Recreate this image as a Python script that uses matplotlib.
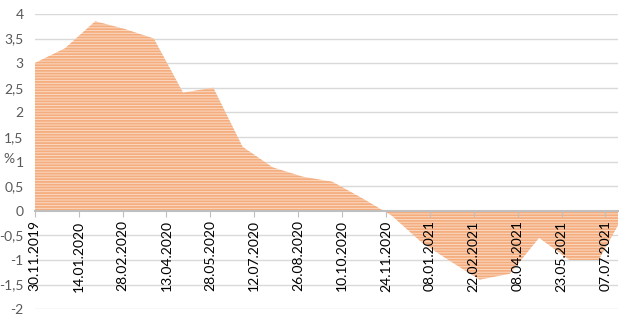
import numpy as np
import pandas as pd
import matplotlib
matplotlib.use('Agg')
from matplotlib import pyplot as plt

# Data (monthly, end of month), %
dates = ['2019-11-30', '2019-12-31', '2020-01-31', '2020-02-29', '2020-03-31',
         '2020-04-30', '2020-05-31', '2020-06-30', '2020-07-31', '2020-08-31',
         '2020-09-30', '2020-10-31', '2020-11-30', '2020-12-31', '2021-01-31',
         '2021-02-28', '2021-03-31', '2021-04-30', '2021-05-31', '2021-06-30',
         '2021-07-31']
values = [3.0, 3.3, 3.85, 3.7, 3.5,
          2.4, 2.5, 1.3, 0.88, 0.69,
          0.59, 0.25, -0.1, -0.65, -1.05,
          -1.4, -1.28, -0.55, -1.0, -1.0,
          0.1]

tick_dates = ['2019-11-30', '2020-01-14', '2020-02-28', '2020-04-13', '2020-05-28',
              '2020-07-12', '2020-08-26', '2020-10-10', '2020-11-24', '2021-01-08',
              '2021-02-22', '2021-04-08', '2021-05-23', '2021-07-07']
y_ticks = [-2, -1.5, -1, -0.5, 0, 0.5, 1, 1.5, 2, 2.5, 3, 3.5, 4]

plt.rcParams['font.family'] = ['Lato', 'DejaVu Sans']
plt.rcParams['hatch.linewidth'] = 1.3
plt.rcParams['hatch.color'] = '#f4ad7e'

x = pd.to_datetime(dates)
xt = pd.to_datetime(tick_dates)

fig = plt.figure(figsize=(6.2, 3.31), dpi=100)
ax = fig.add_axes([0.056, 0.066, 0.941, 0.892])

# grid
for yv in y_ticks:
    if yv != 0:
        ax.axhline(yv, color='#d9d9d9', lw=1.0, zorder=0)

ax.fill_between(x, values, 0, facecolor='#fbdac3', edgecolor='#f4ad7e',
                hatch='------', lw=0, zorder=2)

ax.set_ylim(-2, 4)
ax.set_xlim(pd.Timestamp('2019-11-30'), pd.Timestamp('2021-07-20'))
ax.set_yticks(y_ticks)
ax.set_yticklabels([('%g' % v).replace('.', ',') for v in y_ticks],
                   color='#595959', fontsize=10)
ax.set_xticks(xt)
ax.set_xticklabels([d.strftime('%d.%m.%Y') for d in xt],
                   color='#595959', fontsize=9.5)

for s in ['top', 'right', 'left']:
    ax.spines[s].set_visible(False)
ax.spines['bottom'].set_position(('data', 0))
ax.spines['bottom'].set_color('#bfbfbf')
ax.spines['bottom'].set_linewidth(1.5)
ax.spines['bottom'].set_zorder(3)
ax.xaxis.set_zorder(4)
ax.tick_params(axis='y', length=0, pad=8)
ax.tick_params(axis='x', length=4, color='#bfbfbf', pad=3, labelrotation=90)

ax.text(-0.053, 0.51, '%', transform=ax.transAxes, color='#595959',
        fontsize=10, ha='left', va='center')

fig.savefig('out.png', dpi=100)
